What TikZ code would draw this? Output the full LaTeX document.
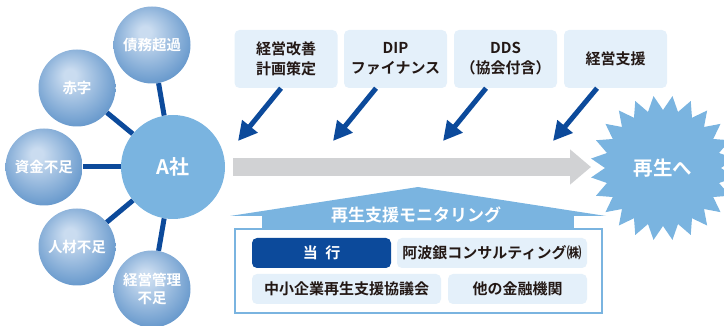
\documentclass[tikz,border=0pt]{standalone}
\usepackage{fontspec}
\setmainfont{Noto Sans CJK JP}[BoldFont={Noto Sans CJK JP Bold}]
\usetikzlibrary{shapes.geometric,arrows.meta}
\definecolor{dblue}{HTML}{0C4A9B}
\definecolor{mblue}{HTML}{7AB4E0}
\definecolor{lbox}{HTML}{E4F0FA}
\definecolor{dtext}{HTML}{231815}
\definecolor{gray1}{HTML}{D1D2D4}
\definecolor{bl1}{HTML}{CADCF0}
\definecolor{bl2}{HTML}{5C91C8}
\pgfdeclareradialshading{bubble}{\pgfpoint{-5bp}{9bp}}{color(0bp)=(bl1); color(4bp)=(bl1); color(32bp)=(bl2); color(50bp)=(bl2)}
\tikzset{
  bub/.style={circle, shading=bubble, minimum size=77pt, inner sep=0pt, text=white, font=\bfseries\fontsize{14.5}{18.5}\selectfont, align=center},
  core/.style={circle, fill=mblue, minimum size=104pt, inner sep=0pt, text=white, font=\bfseries\fontsize{20}{22}\selectfont},
  link/.style={draw=dblue, line width=5pt},
  topbox/.style={rounded corners=5pt, fill=lbox, minimum width=103pt, minimum height=58pt, text=dtext, align=center, font=\bfseries\fontsize{15}{20}\selectfont, inner sep=0pt},
  inbox/.style={rounded corners=5pt, fill=lbox, minimum height=30pt, text=dtext, font=\bfseries\fontsize{15}{17}\selectfont, inner sep=0pt},
  barrow/.style={draw=dblue, line width=5pt, -{Triangle[length=19pt,width=19pt]}},
}
\begin{document}
\begin{tikzpicture}[x=1pt,y=-1pt]
\useasboundingbox (0,0) rectangle (724,326);
% circles
\node[core] (A) at (173,167) {A社};
\node[bub] (b1) at (152,45) {債務超過};
\node[bub] (b2) at (77,88) {赤字};
\node[bub] (b3) at (44,167) {資金不足};
\node[bub] (b4) at (77,247) {人材不足};
\node[bub] (b5) at (152,289) {経営管理\\不足};
\foreach \b in {b1,b2,b3,b4,b5} \draw[link] (A) -- (\b);
% top boxes
\node[topbox] (t1) at (286,59) {経営改善\\計画策定};
\node[topbox] (t2) at (395.5,59) {DIP\\ファイナンス};
\node[topbox] (t3) at (505.5,59) {DDS\\（協会付含）};
\node[topbox] (t4) at (615.5,59) {経営支援};
\coordinate (e1) at (238,141);
\coordinate (e2) at (333,141);
\coordinate (e3) at (443,141);
\coordinate (e4) at (553,141);
\draw[barrow] (t1.south -| 281,0) -- (e1);
\draw[barrow] (t2.south -| 376,0) -- (e2);
\draw[barrow] (t3.south -| 486,0) -- (e3);
\draw[barrow] (t4.south -| 597,0) -- (e4);
% gray arrow
\coordinate (g1) at (233,167);
\coordinate (g2) at (591,167);
\draw[gray1, line width=18pt, -{Triangle[length=21pt,width=34pt]}] (g1) -- (g2);
% star
\node[star, star points=24, star point ratio=0.8, fill=mblue, minimum size=116pt, inner sep=0pt, text=white, font=\bfseries\fontsize{19.5}{22}\selectfont] (S) at (663,168) {再生へ};
% house
\draw[mblue, line width=2pt, fill=white] (235,229) rectangle (602,313);
\fill[mblue] (230,216) -- (418,187) -- (606,216) -- cycle;
\fill[mblue] (262,214) rectangle (574,230);
\node[text=white, font=\bfseries\fontsize{17}{19}\selectfont] (title) at (416,215) {再生支援モニタリング};
\node[inbox, fill=dblue, text=white, minimum width=139pt] (i1) at (321.5,253) {当\hspace{0.5em}行};
\node[inbox, minimum width=190pt] (i2) at (492,253) {阿波銀コンサルティング㈱};
\node[inbox, minimum width=189pt] (i3) at (346.5,289) {中小企業再生支援協議会};
\node[inbox, minimum width=139pt] (i4) at (517.5,289) {他の金融機関};
\end{tikzpicture}
\end{document}
